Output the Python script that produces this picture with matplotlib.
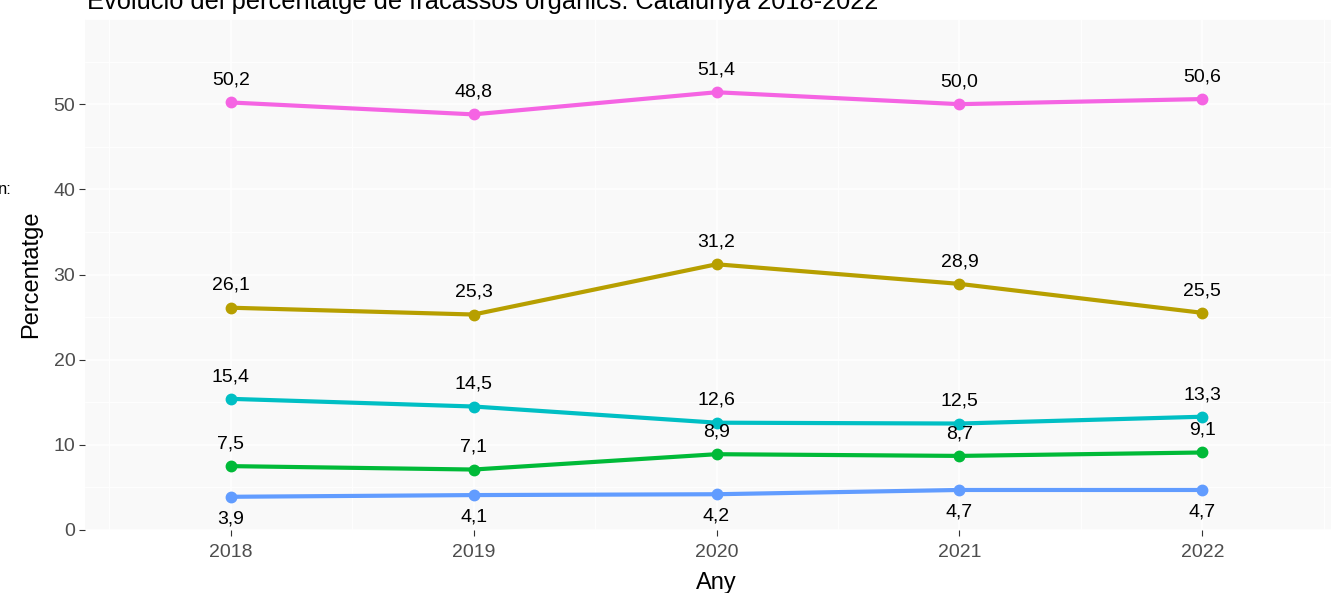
import matplotlib
matplotlib.use("Agg")
from matplotlib import pyplot as plt
from matplotlib.ticker import MultipleLocator

plt.rcParams["font.family"] = ["Liberation Sans", "DejaVu Sans"]

YEARS = [2018, 2019, 2020, 2021, 2022]
PINK = [50.2, 48.8, 51.4, 50.0, 50.6]
OLIVE = [26.1, 25.3, 31.2, 28.9, 25.5]
CYAN = [15.4, 14.5, 12.6, 12.5, 13.3]
GREEN = [7.5, 7.1, 8.9, 8.7, 9.1]
BLUE = [3.9, 4.1, 4.2, 4.7, 4.7]

SERIES = [
    (PINK, "#F564E3", 1),
    (OLIVE, "#B79F00", 1),
    (CYAN, "#00BFC4", 1),
    (GREEN, "#00BA38", 1),
    (BLUE, "#619CFF", -1),
]

W, H = 1331, 593
fig = plt.figure(figsize=(W / 100, H / 100), dpi=100)
ax = fig.add_axes([85 / W, 1 - 530 / H, (1348 - 85) / W, (530 - 19) / H])
ax.set_facecolor("#F9F9F9")

for vals, col, side in SERIES:
    ax.plot(YEARS, vals, color=col, lw=3, marker="o", ms=7.5,
            solid_capstyle="butt", zorder=3)
    for x, v in zip(YEARS, vals):
        ax.annotate(f"{v:.1f}".replace(".", ","), (x, v),
                    xytext=(0, 16 * side), textcoords="offset points",
                    ha="center", va="center", fontsize=14, color="black",
                    zorder=4)

ax.set_xlim(2017.4, 2022.6)
ax.set_ylim(0, 60)
ax.set_xticks(YEARS)
ax.set_yticks([0, 10, 20, 30, 40, 50])
ax.yaxis.set_minor_locator(MultipleLocator(5))
ax.xaxis.set_minor_locator(MultipleLocator(0.5))
ax.grid(which="major", color="white", lw=1.2)
ax.grid(which="minor", color="white", lw=0.6)
ax.set_axisbelow(True)
for s in ax.spines.values():
    s.set_visible(False)
ax.tick_params(which="major", length=4, color="#333333", labelsize=14,
               labelcolor="#4D4D4D")
ax.tick_params(axis="x", pad=6)
ax.tick_params(axis="y", pad=3)
ax.tick_params(which="minor", length=0)

ax.set_xlabel("Any", fontsize=17, labelpad=8)
ax.set_ylabel("Percentatge", fontsize=17, labelpad=8)

fig.text(87 / W, 1 - 9 / H,
         "Evolució del percentatge de fracassos orgànics. Catalunya 2018-2022",
         fontsize=18.3, va="baseline", ha="left")
fig.text(-2 / W, 1 - 190 / H, "n:", fontsize=12, va="center", ha="left")

fig.savefig("out.png", dpi=100)
